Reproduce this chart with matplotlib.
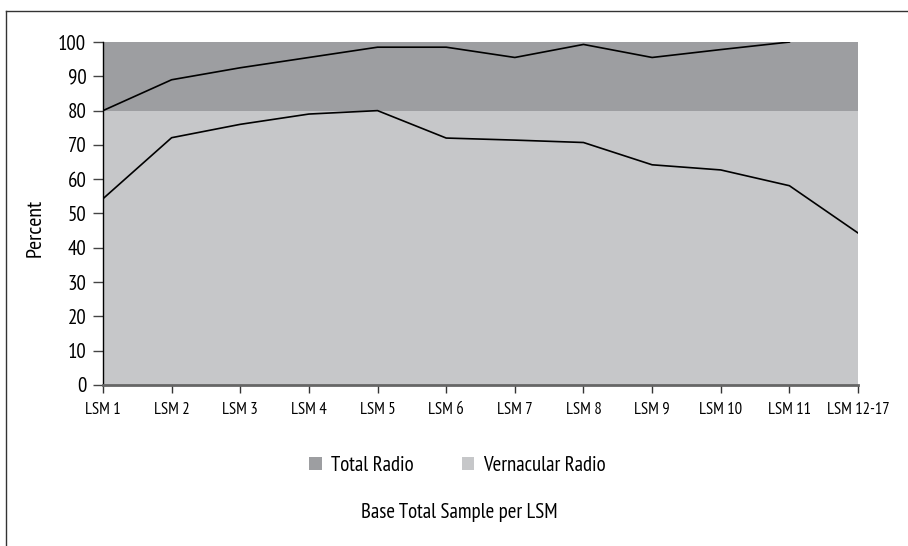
import numpy as np
import matplotlib
matplotlib.use("Agg")
import matplotlib.pyplot as plt
from matplotlib.patches import Patch
from matplotlib.lines import Line2D

plt.rcParams['font.family'] = ['PT Sans Narrow', 'DejaVu Sans']

# data
categories = ["LSM 1", "LSM 2", "LSM 3", "LSM 4", "LSM 5", "LSM 6",
              "LSM 7", "LSM 8", "LSM 9", "LSM 10", "LSM 11", "LSM 12-17"]
total_radio = [80, 89, 92.5, 95.5, 98.5, 98.5, 95.5, 99.3, 95.5, 97.8, 100, np.nan]
vernacular_radio = [54.3, 72.1, 76, 79, 80, 72, 71.4, 70.7, 64.2, 62.7, 58.1, 44.3]
yticks = [0, 10, 20, 30, 40, 50, 60, 70, 80, 90, 100]

dark = "#9d9ea1"
light = "#c6c7c9"

fig = plt.figure(figsize=(9.08, 5.46), dpi=100)
ax = fig.add_axes([0.1134, 0.295, 0.8316, 0.628])

x = np.arange(len(categories))
ax.axhspan(0, 80, color=light, lw=0, zorder=0)
ax.axhspan(80, 100, color=dark, lw=0, zorder=0)
ax.plot(x, total_radio, color="black", lw=1.2, zorder=3)
ax.plot(x, vernacular_radio, color="black", lw=1.2, zorder=3)

ax.set_xlim(0, len(categories) - 1)
ax.set_ylim(0, 100)
ax.set_xticks(x)
ax.set_xticklabels(categories, fontsize=12)
ax.set_yticks(yticks)
ax.set_yticklabels([str(t) for t in yticks], fontsize=15)
ax.tick_params(axis='y', length=7, width=1, color="#444444", pad=5)
ax.tick_params(axis='x', length=6, width=1, color="#333333", pad=6)

fig.text(35 / 908, 1 - 228 / 546, "Percent", rotation=90, ha="center", va="center", fontsize=16)

for s in ["top", "right"]:
    ax.spines[s].set_visible(False)
ax.spines["left"].set_color("black")
ax.spines["left"].set_linewidth(1)
ax.spines["bottom"].set_color("#666666")
ax.spines["bottom"].set_linewidth(2)

handles = [Patch(facecolor=dark, edgecolor="none", label="Total Radio"),
           Patch(facecolor=light, edgecolor="none", label="Vernacular Radio")]
fig.legend(handles=handles, loc="center", bbox_to_anchor=(0.504, 0.148),
           ncol=2, frameon=False, fontsize=15, handlelength=0.6, handleheight=0.6,
           columnspacing=2.3, handletextpad=0.45)

fig.text(0.506, 0.062, "Base Total Sample per LSM", ha="center", va="center", fontsize=15)

# frame lines on top and left of the figure
fig.add_artist(Line2D([6 / 908, 1], [1 - 10.5 / 546, 1 - 10.5 / 546],
                      transform=fig.transFigure, color="#333333", lw=1))
fig.add_artist(Line2D([6 / 908, 6 / 908], [0, 1 - 10.5 / 546],
                      transform=fig.transFigure, color="#333333", lw=1))

fig.savefig("out.png", dpi=100)
